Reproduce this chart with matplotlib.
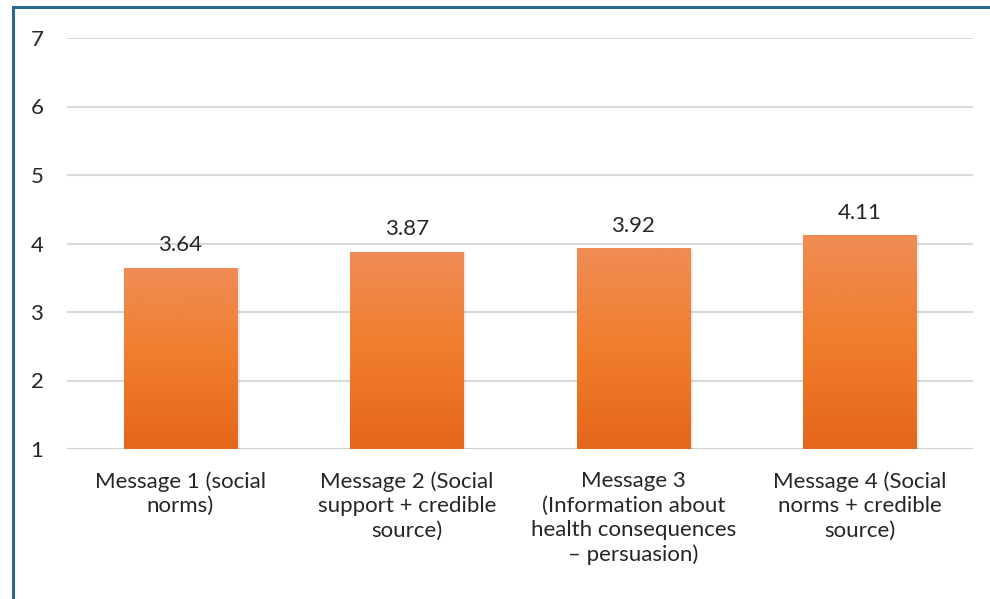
import numpy as np
import matplotlib
matplotlib.use('Agg')
import matplotlib.pyplot as plt
from matplotlib.colors import LinearSegmentedColormap
from matplotlib.lines import Line2D

categories = ['Message 1 (social\nnorms)',
              'Message 2 (Social\nsupport + credible\nsource)',
              'Message 3\n(Information about\nhealth consequences\n\u2013 persuasion)',
              'Message 4 (Social\nnorms + credible\nsource)']
values = [3.64, 3.87, 3.92, 4.11]
yticks = [1, 2, 3, 4, 5, 6, 7]

plt.rcParams['font.family'] = ['Lato', 'DejaVu Sans']
FS = 16

fig = plt.figure(figsize=(9.9, 5.99), dpi=100)
ax = fig.add_axes([67 / 990, 1 - 449 / 599, (973 - 67) / 990, (449 - 38) / 599])

x = np.arange(len(values))
width = 0.5
cmap = LinearSegmentedColormap.from_list('orange', ['#E4661A', '#F07D2C', '#F08C55'])
grad = np.linspace(0, 1, 256).reshape(-1, 1)
for xi, v in zip(x, values):
    # soft shadow then gradient fill
    ax.bar(xi + 0.012, v - 1, width, bottom=1, color='#000000', alpha=0.08, zorder=2)
    ax.imshow(grad, cmap=cmap, origin='lower', aspect='auto',
              extent=(xi - width / 2, xi + width / 2, 1, v), zorder=3)
    ax.text(xi, v + 0.19, '%.2f' % v, ha='center', va='bottom', fontsize=FS, color='#262626')

ax.set_xlim(-0.5, len(values) - 0.5)
ax.set_ylim(1, 7)
ax.set_yticks(yticks)
ax.set_yticklabels([str(t) for t in yticks], fontsize=FS, color='#262626')
ax.set_xticks(x)
ax.set_xticklabels(categories, fontsize=FS, color='#262626', linespacing=1.28)
ax.tick_params(axis='both', length=0)
ax.tick_params(axis='y', pad=17)
ax.tick_params(axis='x', pad=16)
for s in ax.spines.values():
    s.set_visible(False)
ax.grid(axis='y', color='#D9D9D9', lw=1.5, zorder=0)
ax.set_axisbelow(True)
ax.axhline(1, color='#D0D0D0', lw=2, zorder=1)

# blue frame (top and left)
fig.add_artist(Line2D([13 / 990, 1], [1 - 7 / 599, 1 - 7 / 599], color='#2A6A90', lw=2.2))
fig.add_artist(Line2D([13 / 990, 13 / 990], [0, 1 - 7 / 599], color='#2A6A90', lw=2.2))

plt.savefig('out.png', dpi=100)
